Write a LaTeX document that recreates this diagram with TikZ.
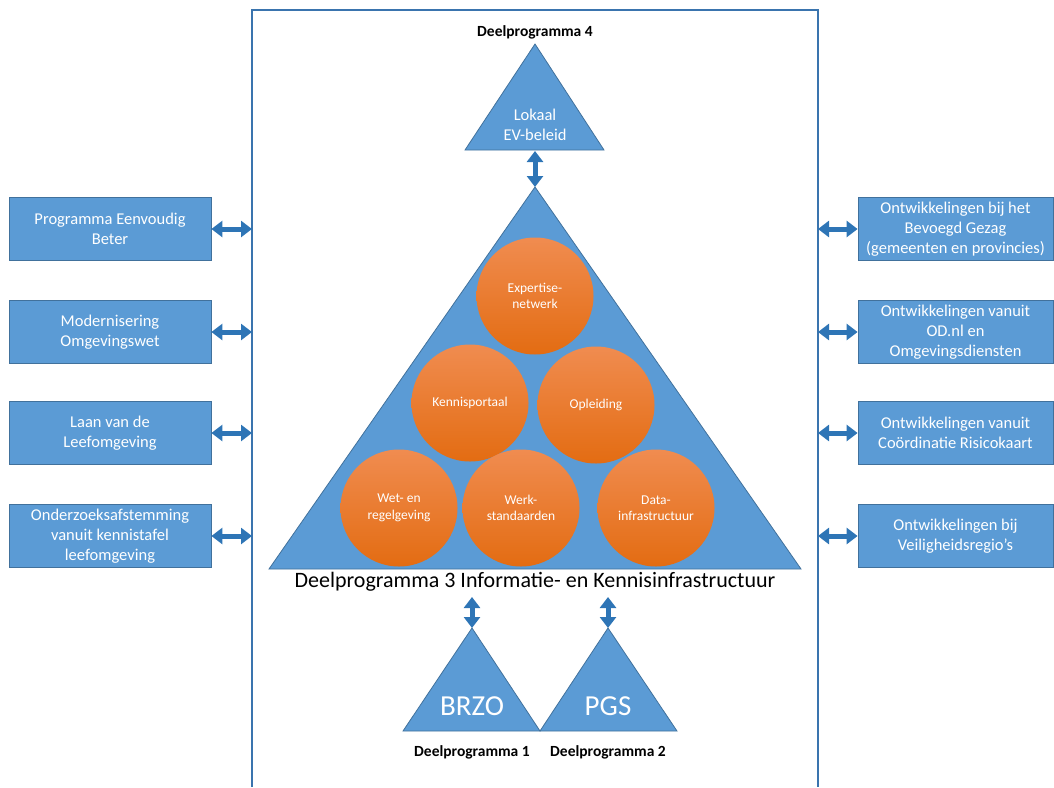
\documentclass[tikz,border=0pt]{standalone}
\usepackage{fontspec}
\setmainfont{Carlito}
\usetikzlibrary{arrows.meta}
\definecolor{boxfill}{HTML}{5B9BD5}
\definecolor{boxline}{HTML}{41719C}
\definecolor{arrowc}{HTML}{2E75B6}
\definecolor{framec}{HTML}{3A74AE}
\definecolor{orTop}{HTML}{F08C50}
\definecolor{orBot}{HTML}{E36C12}
\begin{document}
\begin{tikzpicture}[x=1pt,y=-1pt,
  sidebox/.style={draw=boxline, fill=boxfill, line width=0.8pt, text=white,
    font=\fontsize{16.5}{20}\selectfont, align=center, inner sep=0pt, minimum height=63pt},
  leftbox/.style={sidebox, minimum width=202pt},
  rightbox/.style={sidebox, minimum width=195pt},
  ball/.style={circle, minimum size=117pt, inner sep=0pt, top color=orTop, bottom color=orBot,
    text=white, font=\fontsize{13.5}{16.5}\selectfont, align=center},
  dbl/.style={arrowc, line width=5pt, {Triangle[width=16pt,length=11pt]}-{Triangle[width=16pt,length=11pt]}},
  tri/.style={fill=boxfill, draw=boxline, line width=0.8pt},
  tritext/.style={text=white, align=center},
  dplabel/.style={font=\fontsize{15.5}{18}\selectfont\bfseries, text=black}
]
\useasboundingbox (0,0) rectangle (1054,787);

% frame
\draw[framec, line width=1.2pt] (252,787) -- (252,10) -- (818,10) -- (818,787);

% coordinates on frame
\coordinate (fl1) at (252,229);
\coordinate (fl2) at (252,332);
\coordinate (fl3) at (252,433);
\coordinate (fl4) at (252,536);
\coordinate (fr1) at (818,229);
\coordinate (fr2) at (818,332);
\coordinate (fr3) at (818,433);
\coordinate (fr4) at (818,536);

% left boxes
\node[leftbox] (L1) at (110,229) {Programma Eenvoudig\\Beter};
\node[leftbox] (L2) at (110,332) {Modernisering\\Omgevingswet};
\node[leftbox] (L3) at (110,433) {Laan van de\\Leefomgeving};
\node[leftbox] (L4) at (110,536) {Onderzoeksafstemming\\vanuit kennistafel\\leefomgeving};

% right boxes
\node[rightbox] (R1) at (955.5,229) {Ontwikkelingen bij het\\Bevoegd Gezag\\(gemeenten en provincies)};
\node[rightbox] (R2) at (955.5,332) {Ontwikkelingen vanuit\\OD.nl en\\Omgevingsdiensten};
\node[rightbox] (R3) at (955.5,433) {Ontwikkelingen vanuit\\Coördinatie Risicokaart};
\node[rightbox] (R4) at (955.5,536) {Ontwikkelingen bij\\Veiligheidsregio’s};

\foreach \i in {1,...,4} {
  \draw[dbl] (L\i.east) -- (fl\i);
  \draw[dbl] (fr\i) -- (R\i.west);
}

% top small triangle
\coordinate (t4apex) at (535,44);
\coordinate (t4base) at (535,151);
\draw[tri] (t4apex) -- (604,150) -- (465,150) -- cycle;
\node[dplabel] (dp4) at (535,32) {Deelprogramma 4};
\node[tritext, font=\fontsize{16.5}{20}\selectfont] (lok) at (535,125) {Lokaal\\EV-beleid};

% big triangle
\coordinate (bigapex) at (535,187);
\draw[tri] (bigapex) -- (801,569) -- (269,569) -- cycle;
\draw[dbl] (t4base) -- (bigapex);

% circles
\node[ball] (exp) at (535,296) {Expertise-\\netwerk};
\node[ball] (ken) at (470,403) {Kennisportaal};
\node[ball] (opl) at (596,405) {Opleiding};
\node[ball] (wet) at (399,508) {Wet- en\\regelgeving};
\node[ball] (wrk) at (521,508) {Werk-\\standaarden};
\node[ball] (dat) at (656,508) {Data-\\infrastructuur};

\node[font=\fontsize{22}{25}\selectfont, text=black] (dp3) at (535,582) {Deelprogramma 3 Informatie- en Kennisinfrastructuur};

% bottom triangles
\coordinate (b1apex) at (472,628);
\coordinate (b2apex) at (608,628);
\draw[tri] (b1apex) -- (540,731) -- (403,731) -- cycle;
\draw[tri] (b2apex) -- (677,731) -- (540,731) -- cycle;
\node[tritext, font=\fontsize{29}{32}\selectfont] (brzo) at (472,706) {BRZO};
\node[tritext, font=\fontsize{29}{32}\selectfont] (pgs) at (608,706) {PGS};
\node[dplabel] (dp1) at (472,752) {Deelprogramma 1};
\node[dplabel] (dp2) at (608,752) {Deelprogramma 2};

\coordinate (b1top) at (472,597);
\coordinate (b2top) at (608,597);
\draw[dbl] (b1top) -- (b1apex);
\draw[dbl] (b2top) -- (b2apex);
\end{tikzpicture}
\end{document}
